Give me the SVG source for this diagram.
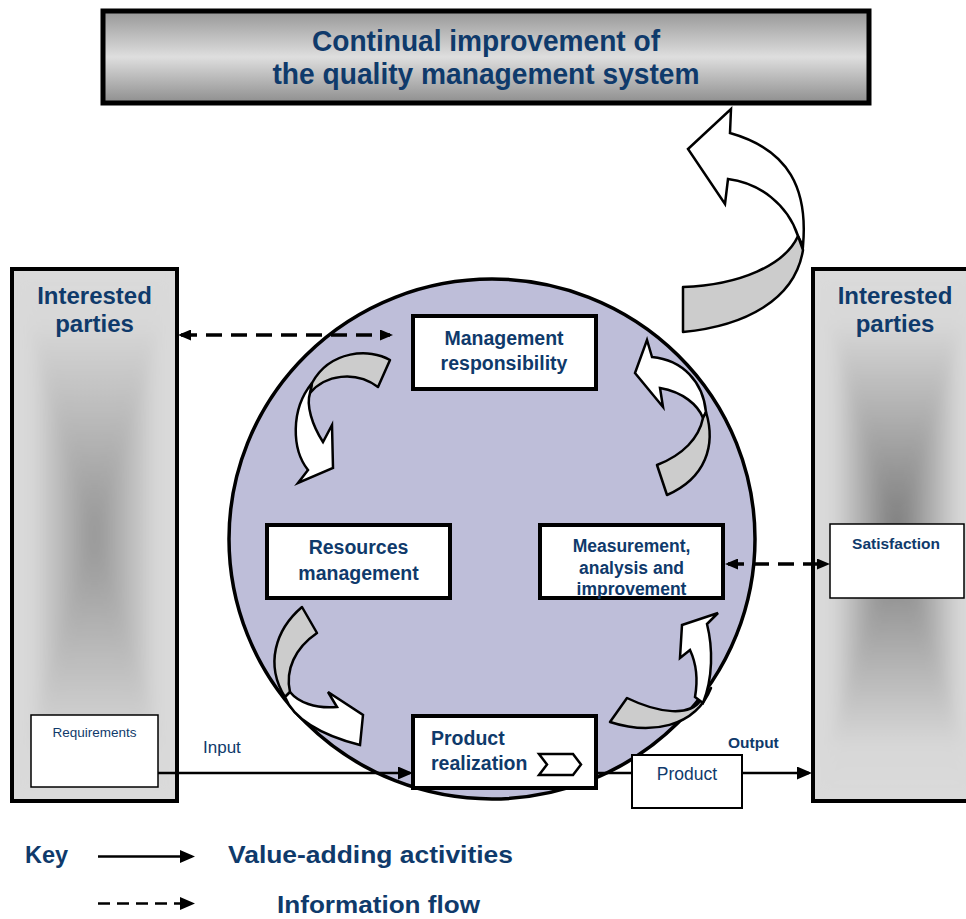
<svg xmlns="http://www.w3.org/2000/svg" width="966" height="919" viewBox="0 0 966 919">
<defs>
<style>
.t{font-family:"Liberation Sans",Arial,sans-serif;fill:#0F3A6B}
.b{font-weight:bold}
.box{fill:#fff;stroke:#000;stroke-width:4}
.thin{fill:#fff;stroke:#000;stroke-width:1.5}
.rib{fill:#CCCCCC;stroke:#000;stroke-width:2.5;stroke-linejoin:round}
.wh{fill:#fff;stroke:#000;stroke-width:2.5;stroke-linejoin:miter}
.solid{fill:none;stroke:#000;stroke-width:2.5}
.dash{fill:none;stroke:#000;stroke-width:3.5;stroke-dasharray:16 9}
</style>
<linearGradient id="ban" x1="0" y1="0" x2="0" y2="1">
<stop offset="0" stop-color="#979797"/>
<stop offset="0.5" stop-color="#DEDEDE"/>
<stop offset="1" stop-color="#8E8E8E"/>
</linearGradient>
<linearGradient id="lv" gradientUnits="userSpaceOnUse" x1="0" y1="269" x2="0" y2="801">
<stop offset="0" stop-color="#DADADA"/><stop offset="0.1" stop-color="#D8D8D8"/><stop offset="0.5" stop-color="#959595"/><stop offset="0.9" stop-color="#D8D8D8"/><stop offset="1" stop-color="#DADADA"/>
</linearGradient>
<linearGradient id="lh" gradientUnits="userSpaceOnUse" x1="12" y1="0" x2="177" y2="0">
<stop offset="0" stop-color="#DADADA"/><stop offset="0.12" stop-color="#D8D8D8"/><stop offset="0.5" stop-color="#959595"/><stop offset="0.88" stop-color="#D8D8D8"/><stop offset="1" stop-color="#DADADA"/>
</linearGradient>
<linearGradient id="rv" gradientUnits="userSpaceOnUse" x1="0" y1="269" x2="0" y2="801">
<stop offset="0" stop-color="#DADADA"/><stop offset="0.1" stop-color="#D8D8D8"/><stop offset="0.5" stop-color="#7A7A7A"/><stop offset="0.9" stop-color="#D8D8D8"/><stop offset="1" stop-color="#DADADA"/>
</linearGradient>
<linearGradient id="rh" gradientUnits="userSpaceOnUse" x1="813" y1="0" x2="980" y2="0">
<stop offset="0" stop-color="#DADADA"/><stop offset="0.12" stop-color="#D8D8D8"/><stop offset="0.5" stop-color="#7A7A7A"/><stop offset="0.88" stop-color="#D8D8D8"/><stop offset="1" stop-color="#DADADA"/>
</linearGradient>
<filter id="soft" x="-10%" y="-10%" width="120%" height="120%">
<feGaussianBlur stdDeviation="7"/>
</filter>
<clipPath id="clipL"><rect x="12" y="269" width="165" height="532"/></clipPath>
<clipPath id="clipR"><rect x="813" y="269" width="167" height="532"/></clipPath>
<marker id="ah" markerUnits="userSpaceOnUse" markerWidth="15" markerHeight="13" refX="12" refY="6.5" orient="auto-start-reverse">
<path d="M0,0 L15,6.5 L0,13 Z" fill="#000"/>
</marker>
<marker id="dh" markerUnits="userSpaceOnUse" markerWidth="13" markerHeight="11" refX="10" refY="5.5" orient="auto-start-reverse">
<path d="M0,0 L13,5.5 L0,11 Z" fill="#000"/>
</marker>
</defs>
<rect width="966" height="919" fill="#fff"/>

<g id="banner">
<rect x="103" y="11" width="766" height="92" fill="url(#ban)" stroke="#000" stroke-width="5"/>
<text class="t b" x="486" y="51" font-size="29" text-anchor="middle" textLength="348" lengthAdjust="spacingAndGlyphs">Continual improvement of</text>
<text class="t b" x="486" y="84" font-size="29" text-anchor="middle" textLength="427" lengthAdjust="spacingAndGlyphs">the quality management system</text>
</g>

<g id="parties-left">
<rect x="12" y="269" width="165" height="532" fill="#DADADA"/>
<g clip-path="url(#clipL)">
<g filter="url(#soft)">
<polygon points="12,269 177,269 94.5,535" fill="url(#lv)"/>
<polygon points="12,801 177,801 94.5,535" fill="url(#lv)"/>
<polygon points="12,269 94.5,535 12,801" fill="url(#lh)"/>
<polygon points="177,269 94.5,535 177,801" fill="url(#lh)"/>
</g>
</g>
<rect x="12" y="269" width="165" height="532" fill="none" stroke="#000" stroke-width="4"/>
<text class="t b" x="94.5" y="304" font-size="24" text-anchor="middle">Interested</text>
<text class="t b" x="94.5" y="332" font-size="24" text-anchor="middle">parties</text>
</g>
<g id="requirements">
<rect class="thin" x="31" y="715" width="127" height="72"/>
<text class="t" x="94.5" y="737" font-size="13.5" text-anchor="middle">Requirements</text>
</g>

<g id="parties-right">
<rect x="813" y="269" width="167" height="532" fill="#DADADA"/>
<g clip-path="url(#clipR)">
<g filter="url(#soft)">
<polygon points="813,269 980,269 896.5,535" fill="url(#rv)"/>
<polygon points="813,801 980,801 896.5,535" fill="url(#rv)"/>
<polygon points="813,269 896.5,535 813,801" fill="url(#rh)"/>
<polygon points="980,269 896.5,535 980,801" fill="url(#rh)"/>
</g>
</g>
<rect x="813" y="269" width="167" height="532" fill="none" stroke="#000" stroke-width="4"/>
<text class="t b" x="895" y="304" font-size="24" text-anchor="middle">Interested</text>
<text class="t b" x="895" y="332" font-size="24" text-anchor="middle">parties</text>
</g>
<g id="satisfaction">
<rect class="thin" x="830" y="524" width="134" height="74"/>
<text class="t b" x="896" y="549" font-size="15.5" text-anchor="middle">Satisfaction</text>
</g>

<g id="qms-circle">
<ellipse cx="492" cy="539" rx="263" ry="260" fill="#BEBED9" stroke="#000" stroke-width="3.5"/>
</g>

<g id="improvement-arrow">
<path class="wh" d="M803,246 C808,190 790,150 730,133 L731,109 L688,149 L725,204 L728,179 C760,183 788,205 798,236 Z"/>
<path class="rib" d="M798,236 C785,265 740,285 683,287 L683,332 C745,326 795,300 803,250 Z"/>
</g>

<g id="cycle-arrows">
<path class="rib" d="M390,360 C370,348 330,350 312,383 L310,393 C325,375 355,370 378,387 Z"/>
<path class="wh" d="M312,383 C290,410 292,450 308,470 L298,483 L333,468 L332,425 L323,442 C312,425 306,405 310,393 Z"/>

<path class="wh" d="M652,357 L647,340 L635,373 L663,407 L660,388 C683,392 698,405 703,418 L706,412 C703,382 683,360 652,357 Z"/>
<path class="rib" d="M706,412 C716,445 706,478 667,495 L657,465 C683,455 699,438 703,418 Z"/>

<path class="rib" d="M302,607 C275,630 265,665 285,697 L290,692 C285,670 295,648 317,633 Z"/>
<path class="wh" d="M285,697 C293,718 320,735 360,745 L363,715 L328,692 L337,707 C315,709 298,702 290,692 Z"/>

<path class="rib" d="M700,701 C690,716 660,714 627,698 L610,722 C650,735 695,728 711,688 Z"/>
<path class="wh" d="M682,625 L718,613 L707,624 C713,648 713,678 703,703 L695,697 C698,680 697,665 690,650 L680,658 Z"/>
</g>

<g id="management">
<rect class="box" x="413" y="316" width="183" height="73"/>
<text class="t b" x="504" y="345" font-size="19.5" text-anchor="middle">Management</text>
<text class="t b" x="504" y="370" font-size="19.5" text-anchor="middle">responsibility</text>
</g>
<g id="resources">
<rect class="box" x="267" y="525" width="183" height="73"/>
<text class="t b" x="358.5" y="554" font-size="19.5" text-anchor="middle">Resources</text>
<text class="t b" x="358.5" y="580" font-size="19.5" text-anchor="middle">management</text>
</g>
<g id="measurement">
<rect class="box" x="540" y="525" width="183" height="73"/>
<text class="t b" x="631.5" y="552" font-size="17.5" text-anchor="middle">Measurement,</text>
<text class="t b" x="631.5" y="574" font-size="17.5" text-anchor="middle">analysis and</text>
<text class="t b" x="631.5" y="595" font-size="17.5" text-anchor="middle">improvement</text>
</g>
<g id="realization">
<rect class="box" x="413" y="716" width="183" height="72"/>
<text class="t b" x="431" y="745" font-size="19.5">Product</text>
<text class="t b" x="431" y="770" font-size="19.5">realization</text>
<polygon points="539,754 573,754 581,764.5 573,775 539,775 547,764.5" fill="#fff" stroke="#000" stroke-width="2.5"/>
</g>
<g id="product">
<rect x="632" y="755" width="110" height="53" fill="#fff" stroke="#000" stroke-width="2"/>
<text class="t" x="687" y="780" font-size="17.5" text-anchor="middle">Product</text>
</g>

<g id="connectors">
<path class="solid" d="M158,773 L410,773" marker-end="url(#ah)"/>
<path class="solid" d="M596,773 L632,773"/>
<path class="solid" d="M742,773 L809,773" marker-end="url(#ah)"/>
<path class="dash" d="M181,335 L390,335" marker-start="url(#dh)" marker-end="url(#dh)"/>
<path class="dash" d="M728,564 L827,564" marker-start="url(#dh)" marker-end="url(#dh)"/>
<text class="t" x="203" y="753" font-size="17">Input</text>
<text class="t b" x="728" y="748" font-size="15.5">Output</text>
</g>

<g id="key">
<text class="t b" x="25" y="863" font-size="23.5">Key</text>
<path class="solid" d="M98,856.5 L192,856.5" marker-end="url(#ah)"/>
<text class="t b" x="228" y="863" font-size="24" textLength="285" lengthAdjust="spacingAndGlyphs">Value-adding activities</text>
<path class="solid" d="M98,903.5 L192,903.5" stroke-dasharray="12 7" marker-end="url(#ah)"/>
<text class="t b" x="277" y="913" font-size="23" textLength="203" lengthAdjust="spacingAndGlyphs">Information flow</text>
</g>
</svg>
